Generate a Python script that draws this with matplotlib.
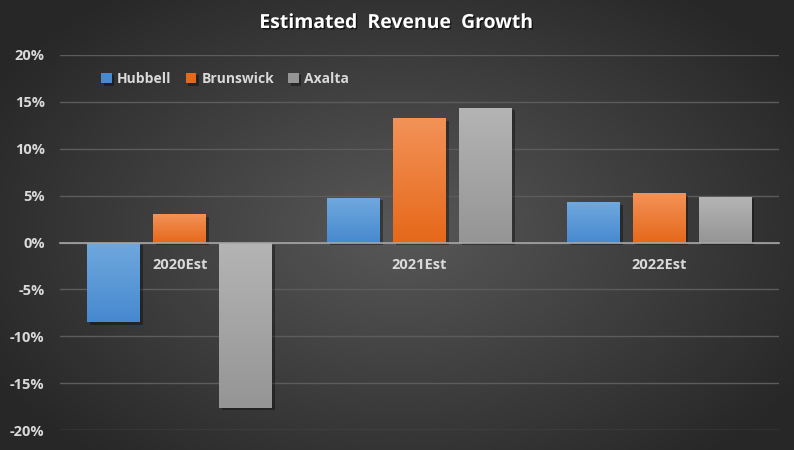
import matplotlib.pyplot as plt
import matplotlib.patheffects as pe
import numpy as np
from matplotlib.colors import LinearSegmentedColormap
from matplotlib.ticker import FuncFormatter, MultipleLocator

categories = ["2020Est", "2021Est", "2022Est"]
series = ["Hubbell", "Brunswick", "Axalta"]
hubbell = [-8.5, 4.8, 4.3]
brunswick = [3.0, 13.3, 5.3]
axalta = [-17.6, 14.4, 4.9]

# top / bottom gradient colours per series
colors = {
    "Hubbell": ("#6fa8de", "#4789cf"),
    "Brunswick": ("#f39257", "#e6681a"),
    "Axalta": ("#b4b4b4", "#959595"),
}
label_color = "#d9d9d9"
font = ["Open Sans", "DejaVu Sans"]
plt.rcParams["font.family"] = font

fig = plt.figure(figsize=(7.94, 4.5), dpi=100)

# radial background
bg = fig.add_axes([0, 0, 1, 1])
bg.axis("off")
yy, xx = np.mgrid[0:450, 0:794]
r = np.sqrt(((xx - 400) / 470.0) ** 2 + ((yy - 230) / 300.0) ** 2)
r = np.clip(r, 0, 1)
c_in, c_out = 0x58, 0x27
val = (c_in + (c_out - c_in) * r) / 255.0
bg.imshow(np.dstack([val, val, val]), aspect="auto", extent=[0, 1, 0, 1])
bg.set_xlim(0, 1)
bg.set_ylim(0, 1)

ax = fig.add_axes([60 / 794, 1 - 430 / 450, 719 / 794, 375 / 450])
ax.patch.set_alpha(0)

x = np.arange(len(categories))
width = 0.221
step = 0.275
data = [hubbell, brunswick, axalta]

for i, (name, vals) in enumerate(zip(series, data)):
    top_c, bot_c = colors[name]
    bars = ax.bar(x + (i - 1) * step, vals, width, color=bot_c, label=name, zorder=3,
                  path_effects=[pe.SimplePatchShadow(offset=(2, -2), shadow_rgbFace="black", alpha=0.35),
                                pe.Normal()])
    cmap = LinearSegmentedColormap.from_list(name, [bot_c, top_c])
    for b in bars:
        x0 = b.get_x()
        y0 = min(b.get_y(), b.get_y() + b.get_height())
        y1 = max(b.get_y(), b.get_y() + b.get_height())
        grad = np.linspace(0, 1, 100).reshape(-1, 1)
        im = ax.imshow(grad, cmap=cmap, aspect="auto", origin="lower",
                       extent=[x0, x0 + b.get_width(), y0, y1], zorder=4)
        im.set_clip_path(b)

ax.set_xlim(-0.5, 2.5)
ax.set_ylim(-20, 20)
ax.yaxis.set_major_locator(MultipleLocator(5))
ax.yaxis.set_major_formatter(FuncFormatter(lambda v, p: "%d%%" % v))
ax.grid(axis="y", color="#5c5c5c", linewidth=1, zorder=0)
ax.set_axisbelow(True)

for s in ["top", "right", "left"]:
    ax.spines[s].set_visible(False)
ax.spines["bottom"].set_position(("data", 0))
ax.spines["bottom"].set_color("#a6a6a6")
ax.spines["bottom"].set_linewidth(1.2)
ax.spines["bottom"].set_zorder(5)

ax.set_xticks(x)
ax.set_xticklabels(categories)
ax.tick_params(axis="x", length=0, pad=11.5, labelcolor=label_color, labelsize=10.5)
ax.tick_params(axis="y", length=0, pad=11, labelcolor=label_color, labelsize=10.5)
for lab in ax.get_xticklabels() + ax.get_yticklabels():
    lab.set_fontweight("bold")

leg = ax.legend(loc="center left", bbox_to_anchor=(0.04, 0.937), ncol=3, frameon=False,
                handlelength=0.75, handleheight=0.75, handletextpad=0.4, columnspacing=1.0,
                prop={"family": font, "weight": "bold", "size": 10})
for t in leg.get_texts():
    t.set_color(label_color)

fig.text(0.5, 1 - 23 / 450, "Estimated  Revenue  Growth", ha="center", va="center",
         color="white", fontsize=14, fontweight="bold",
         path_effects=[pe.withSimplePatchShadow(offset=(1, -1), shadow_rgbFace="black", alpha=0.6)])

fig.savefig("out.png", dpi=100)
